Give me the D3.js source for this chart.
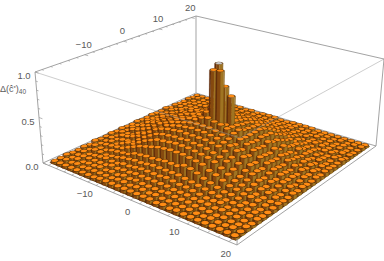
<!DOCTYPE html>
<html>
<head>
<meta charset="utf-8">
<script src="https://cdnjs.cloudflare.com/ajax/libs/d3/7.8.5/d3.min.js"></script>
<style>
body { margin: 0; background: #fff; }
text { font-family: "Liberation Sans", sans-serif; fill: #5a5a5a; }
</style>
</head>
<body>
<div id="vis-container"></div>
<script>
const xTicks = [-10, 0, 10, 20],
    yTicks = [-10, 0, 10, 20],
    zTicks = [0, 0.5, 1];
const minorTicks = [-20, -18, -16, -14, -12, -8, -6, -4, -2, 2, 4, 6, 8, 12, 14, 16, 18],
    zMinorTicks = [0.1, 0.2, 0.3, 0.4, 0.6, 0.7, 0.8, 0.9];

// bin heights, in hundredths. rows run along x, columns along y, 29 bins from -20 to 20
const heightRows = [
[2,2,3,2,2,3,2,4,3,3,4,3,4,3,3,4,3,3,4,3,3,4,2,3,2,2,3,2,2],
[2,3,2,2,3,2,4,3,3,4,3,5,4,5,4,3,5,4,3,4,3,4,2,3,3,2,2,3,2],
[2,2,3,3,2,4,3,4,5,4,6,5,7,5,6,7,6,5,6,4,5,3,4,3,3,3,2,2,2],
[2,3,2,3,3,4,3,5,4,6,7,6,9,7,8,9,7,8,6,7,5,6,3,4,3,3,3,2,2],
[2,2,3,3,4,3,5,6,7,7,9,10,12,10,11,12,11,9,10,9,7,6,5,4,3,4,2,3,2],
[2,3,3,3,5,4,6,7,10,8,12,13,15,14,15,16,13,14,14,11,9,8,6,4,5,3,3,2,2],
[2,3,4,3,4,5,7,10,11,13,17,16,20,18,19,20,17,18,15,12,11,9,6,5,4,4,3,2,2],
[2,3,3,5,4,7,8,13,15,18,21,22,25,23,24,25,22,24,20,17,15,12,8,6,4,4,3,3,2],
[3,3,4,4,6,8,11,16,19,22,26,25,28,27,28,29,26,28,24,23,19,15,10,7,5,4,4,3,3],
[3,3,3,5,6,9,12,18,22,26,29,30,31,31,31,32,29,31,28,25,23,17,12,8,6,5,4,3,2],
[3,4,5,5,7,9,13,20,25,28,31,32,33,34,33,34,33,32,31,27,25,21,15,9,7,5,4,3,3],
[3,4,4,6,8,10,13,22,26,29,32,34,35,37,36,36,35,34,32,29,26,22,17,10,7,5,4,3,2],
[3,3,5,6,8,11,14,23,27,30,33,35,37,38,38,39,37,35,33,30,27,23,18,11,8,6,4,3,3],
[3,4,4,6,8,11,15,24,28,30,33,36,38,42,46,48,38,36,33,30,28,24,19,11,8,6,4,3,3],
[3,4,4,6,8,11,15,24,28,31,33,36,38,44,95,105,40,36,33,31,28,24,19,11,8,6,4,3,3],
[3,3,4,6,9,11,15,24,28,30,33,36,38,42,96,76,42,36,33,30,28,24,19,12,8,6,4,3,2],
[3,4,4,6,8,11,18,23,27,30,33,35,37,41,38,67,37,35,33,30,27,23,14,11,8,6,5,3,2],
[2,3,5,5,7,10,17,22,26,29,32,34,35,39,38,37,35,34,32,29,26,22,13,10,8,6,4,3,3],
[3,3,4,5,7,9,15,21,25,27,31,32,33,36,37,34,33,32,31,28,25,20,13,9,7,5,5,4,3],
[2,3,4,5,6,8,12,17,23,25,28,31,29,32,31,31,31,31,29,26,22,18,12,9,6,5,3,3,3],
[3,3,4,4,5,7,10,15,19,23,24,28,26,29,28,27,28,27,26,22,19,16,11,8,6,4,4,3,3],
[2,3,3,4,4,6,8,12,15,17,20,24,22,25,24,23,25,22,21,18,15,13,8,7,4,5,3,3,2],
[2,2,3,4,4,5,6,9,11,12,15,18,17,20,19,18,20,16,17,13,11,10,7,5,4,3,4,3,2],
[2,2,3,3,5,4,6,8,9,11,14,14,13,16,15,14,15,13,12,8,10,7,6,4,5,3,3,3,2],
[2,3,2,4,3,4,5,6,7,9,10,9,11,12,11,10,12,10,9,7,7,6,5,3,4,3,3,2,2],
[2,2,3,3,3,4,3,6,5,7,6,8,7,9,8,7,9,6,7,6,4,5,3,4,3,3,2,3,2],
[2,2,2,3,3,3,4,5,4,6,5,6,7,6,6,5,7,5,6,4,5,4,3,4,2,3,3,2,2],
[2,3,2,2,3,3,2,3,3,4,3,4,5,3,4,5,4,5,3,4,3,3,4,2,3,2,2,3,2],
[2,2,3,2,3,2,2,3,4,3,3,4,3,4,3,3,4,3,4,4,3,3,4,2,3,2,2,3,2]
];
heightRows.forEach((r, i) => { if (r.length !== 29) throw new Error("row " + i + " has " + r.length); });
if (heightRows.length !== 29) throw new Error("rows " + heightRows.length);

const binScale = d3.scaleLinear().domain([0, 28]).range([-20, 20]);

const barRadius = 0.76,
    capRadius = 0.6,
    barSides = 8;

// box corners on screen, floor and roof: left, front, right, back
const floorQuad = [[43, 163], [237, 245], [376, 146], [196, 93]],
    roofQuad = [[35, 72], [240, 138], [384, 59], [196, 16]];

// square to quad homography
let makeHomography = function(q){
    let [[x0, y0], [x1, y1], [x2, y2], [x3, y3]] = q;
    let dx1 = x1 - x2, dx2 = x3 - x2, sx = x0 - x1 + x2 - x3,
        dy1 = y1 - y2, dy2 = y3 - y2, sy = y0 - y1 + y2 - y3;
    let den = dx1 * dy2 - dx2 * dy1;
    let g = (sx * dy2 - dx2 * sy) / den,
        h = (dx1 * sy - sx * dy1) / den;
    let a = x1 - x0 + g * x1, b = x3 - x0 + h * x3,
        d = y1 - y0 + g * y1, e = y3 - y0 + h * y3;
    return (u, v) => {
        let w = g * u + h * v + 1;
        return [(a * u + b * v + x0) / w, (d * u + e * v + y0) / w];
    };
}

const floorMap = makeHomography(floorQuad),
    roofMap = makeHomography(roofQuad);

const xScale = d3.scaleLinear().domain([-21.5, 21.5]).range([0, 1]),
    yScale = d3.scaleLinear().domain([-21.5, 21.5]).range([0, 1]),
    zScale = d3.scaleLinear().domain([0, 1]).range([0, 1]).clamp(true);

// side shade by where the face points, -1 is screen left, 1 is screen right
const shade = d3.scaleLinear()
    .domain([-1, -0.4, 0.4, 1])
    .range(["#5c280c", "#84480f", "#a17522", "#7e540e"]);

let project = function(x, y, z){
    let u = xScale(x), v = yScale(y), t = zScale(z);
    let a = floorMap(u, v), b = roofMap(u, v);
    return [a[0] + (b[0] - a[0]) * t, a[1] + (b[1] - a[1]) * t];
}

let svg = d3.select("#vis-container")
    .append("svg")
    .attr("width", 384)
    .attr("height", 261)
    .attr("viewBox", "0 0 384 261")
    .style("display", "block");

const x0 = xScale.domain()[0], x1 = xScale.domain()[1],
    y0 = yScale.domain()[0], y1 = yScale.domain()[1];

let boxLine = function(g, a, b, opacity){
    let p = project(...a), q = project(...b);
    g.append("line")
        .attr("x1", p[0]).attr("y1", p[1])
        .attr("x2", q[0]).attr("y2", q[1])
        .attr("stroke", "#999")
        .attr("stroke-width", 0.9)
        .attr("stroke-opacity", opacity);
}

// edges behind the bars
let backLines = svg.append("g");
boxLine(backLines, [x0, y0, 0], [x0, y1, 0], 1);
boxLine(backLines, [x0, y1, 0], [x1, y1, 0], 1);
boxLine(backLines, [x0, y1, 0], [x0, y1, 1], 1);
boxLine(backLines, [x0, y0, 1], [x0, y1, 1], 1);
boxLine(backLines, [x0, y1, 1], [x1, y1, 1], 1);
boxLine(backLines, [x1, y1, 0], [x1, y1, 1], 1);

const polyPoints = pts => pts.map(p => p.join(",")).join(" ");

// floor under the bars
svg.append("polygon")
    .attr("points", polyPoints([project(-20.7, -20.7, 0), project(20.7, -20.7, 0), project(20.7, 20.7, 0), project(-20.7, 20.7, 0)]))
    .attr("fill", "#4a2a08");

let bins = [];
heightRows.forEach((row, i) => {
    row.forEach((v, j) => {
        bins.push({x: binScale(i), y: binScale(j), h: v / 100});
    });
});
// far corner first
bins.sort((a, b) => (a.x - a.y) - (b.x - b.y));

const sideAngles = d3.range(barSides).map(k => k * 2 * Math.PI / barSides);

let rim = (d, a, z, r) => project(d.x + r * Math.cos(a), d.y + r * Math.sin(a), z);

// the side faces turned toward the viewer, who looks from +x, -y
let sideFaces = function(d){
    let faces = [];
    sideAngles.forEach(a => {
        let b = a + 2 * Math.PI / barSides, m = (a + b) / 2;
        if (Math.cos(m) - Math.sin(m) > 0) {
            faces.push({
                pts: [rim(d, a, 0, barRadius), rim(d, b, 0, barRadius), rim(d, b, d.h, barRadius), rim(d, a, d.h, barRadius)],
                s: (Math.cos(m) + Math.sin(m)) / Math.SQRT2
            });
        }
    });
    return faces;
}

let bars = svg.append("g")
    .selectAll(".bar")
    .data(bins)
    .enter().append("g")
    .attr("class", "bar");

bars.selectAll(".side")
    .data(sideFaces)
    .enter().append("polygon")
    .attr("class", "side")
    .attr("points", f => polyPoints(f.pts))
    .attr("fill", f => shade(f.s))
    .attr("stroke", f => shade(f.s))
    .attr("stroke-width", 0.2);

// dark rim, then the orange cap inside it
bars.append("polygon")
    .attr("points", d => polyPoints(sideAngles.map(a => rim(d, a, d.h, barRadius))))
    .attr("fill", "#5a3208");

bars.append("polygon")
    .attr("points", d => polyPoints(sideAngles.map(a => rim(d, a, d.h, capRadius))))
    .attr("fill", d => d.h > 1 ? "#c9c9c9" : "#ff8c14");

// edges in front of the bars
let frontLines = svg.append("g");
boxLine(frontLines, [x0, y0, 0], [x1, y0, 0], 1);
boxLine(frontLines, [x1, y0, 0], [x1, y1, 0], 1);
boxLine(frontLines, [x0, y0, 0], [x0, y0, 1], 1);
boxLine(frontLines, [x0, y0, 1], [x1, y0, 1], 0.55);
boxLine(frontLines, [x1, y0, 1], [x1, y1, 1], 0.55);
boxLine(frontLines, [x1, y0, 0], [x1, y0, 0.06], 1);

let tickLine = function(a, b){
    let p = project(...a), q = project(...b);
    svg.append("line")
        .attr("x1", p[0]).attr("y1", p[1])
        .attr("x2", q[0]).attr("y2", q[1])
        .attr("stroke", "#999")
        .attr("stroke-width", 0.7);
}

xTicks.forEach(t => tickLine([t, y0, 0], [t, y0 + 0.9, 0]));
minorTicks.forEach(t => tickLine([t, y0, 0], [t, y0 + 0.5, 0]));
yTicks.forEach(t => tickLine([x0, t, 1], [x0 + 0.9, t, 1]));
minorTicks.forEach(t => tickLine([x0, t, 1], [x0 + 0.5, t, 1]));
zTicks.forEach(t => tickLine([x0, y0, t], [x0 + 0.9, y0, t]));
zMinorTicks.forEach(t => tickLine([x0, y0, t], [x0 + 0.5, y0, t]));

const fmtTick = t => (t < 0 ? "\u2212" : "") + Math.abs(t);

let addLabel = function(text, p, dx, dy){
    svg.append("text")
        .attr("x", p[0] + dx)
        .attr("y", p[1] + dy)
        .attr("text-anchor", "middle")
        .attr("font-size", 9.5)
        .text(text);
}

xTicks.forEach(t => addLabel(fmtTick(t), project(t, y0, 0), -3, 15));
yTicks.forEach(t => addLabel(fmtTick(t), project(x0, t, 1), -1, -7));
zTicks.forEach(t => addLabel(d3.format(".1f")(t), project(x0, y0, t), -11, 7));

let zTitle = svg.append("text")
    .attr("x", 0)
    .attr("y", 92)
    .attr("font-size", 9)
    .text("\u0394(c\u0302");
zTitle.append("tspan").attr("font-size", 6).attr("dy", -2.5).text("*");
zTitle.append("tspan").attr("dy", 2.5).text(")");
zTitle.append("tspan").attr("font-size", 6.5).attr("dy", 2).text("40");
</script>
</body>
</html>
